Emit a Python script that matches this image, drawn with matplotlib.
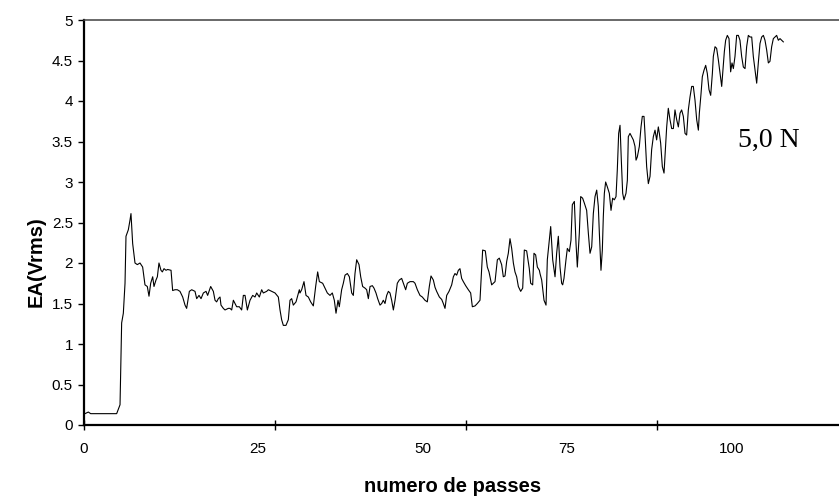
import matplotlib
matplotlib.use("Agg")
import matplotlib.pyplot as plt
from matplotlib.ticker import FixedLocator, FixedFormatter, FuncFormatter

# numero de passes (x) and EA (Vrms) values
passes = [
    0.15, 0.67, 1.03, 1.44, 5.04, 5.56, 5.81, 6.07, 6.33, 6.48, 6.84, 7.10, 7.25, 7.51,
    7.87, 8.23, 8.64, 9.05, 9.41, 9.77, 10.03, 10.29, 10.60, 10.80, 11.11, 11.32, 11.57,
    11.88, 12.09, 12.35, 12.65, 12.91, 13.43, 13.68, 14.04, 14.40, 14.81, 15.23, 15.59,
    15.84, 16.26, 16.62, 17.13, 17.39, 17.75, 18.06, 18.42, 18.83, 19.08, 19.55, 19.96,
    20.22, 20.47, 20.73, 20.99, 21.14, 21.50, 21.76, 22.27, 22.53, 22.79, 23.05, 23.30,
    23.56, 23.97, 24.33, 24.59, 24.85, 25.21, 25.62, 26.03, 26.39, 26.65, 27.06, 27.42,
    27.67, 28.19, 28.45, 28.96, 29.48, 29.99, 30.25, 30.50, 30.76, 31.17, 31.53, 31.79,
    32.05, 32.30, 32.72, 33.23,
    33.33, 33.59, 33.95, 34.26, 34.62, 34.98, 35.39, 35.75, 36.06, 36.32, 36.83, 37.19,
    37.55, 37.96, 38.32, 38.63, 38.89, 39.20, 39.40, 39.76, 40.02, 40.28, 40.64, 40.95,
    41.31, 41.56, 41.82, 42.08, 42.44, 42.70, 43.00, 43.36, 43.62, 43.88, 44.14, 44.50,
    44.75, 45.06, 45.32, 45.68, 45.94, 46.19, 46.45, 46.71, 46.97, 47.22, 47.48, 47.74,
    48.00, 48.35, 48.66, 49.02, 49.28, 49.64, 49.90, 50.31, 50.82, 51.08, 51.44, 51.85,
    52.21, 52.62, 52.98, 53.29, 53.55, 53.91, 54.17, 54.42, 54.84, 55.20, 55.45, 55.71,
    55.97, 56.33, 56.74, 57.00, 57.25, 57.51, 57.77, 58.02, 58.28, 58.54, 58.90, 59.31,
    59.67, 59.93, 60.34, 60.70, 61.11, 61.37, 61.52, 61.93, 62.24, 62.50, 62.91, 63.17,
    63.43, 63.79, 64.09, 64.45, 64.71, 64.97, 65.23, 65.48, 65.74, 66.00, 66.26, 66.51,
    66.77, 67.03, 67.39, 67.70, 67.95, 68.31, 68.72, 68.93, 69.24, 69.44, 69.70, 69.96,
    70.27,
    70.37, 70.63, 70.99, 71.30, 71.50, 71.81, 72.02, 72.33, 72.69, 72.94, 73.20, 73.46,
    73.71, 73.87, 74.07, 74.38, 74.59, 74.90, 75.15, 75.36, 75.67, 75.93, 76.13, 76.44,
    76.65, 76.95, 77.21, 77.57, 77.83, 78.09, 78.35, 78.60, 78.86, 79.12, 79.37, 79.53,
    79.78, 79.99, 80.14, 80.30, 80.50, 80.76, 81.07, 81.33, 81.58, 81.84, 82.10, 82.30,
    82.51, 82.72, 82.92, 83.13, 83.33, 83.64, 83.85, 84.00, 84.26, 84.52, 84.77, 85.03,
    85.19, 85.39, 85.70, 85.96, 86.16, 86.42, 86.57, 86.83, 87.09, 87.35, 87.60, 87.86,
    88.12, 88.37, 88.63, 88.79, 88.99, 89.25, 89.51, 89.71, 89.92, 90.17, 90.43, 90.69,
    90.95, 91.20, 91.46, 91.72, 91.98, 92.23, 92.49, 92.75, 93.00, 93.26, 93.52, 93.78,
    94.03, 94.29, 94.55, 94.81, 94.96, 95.22, 95.42, 95.68, 95.94, 96.19, 96.45, 96.71,
    96.97, 97.12, 97.38, 97.63, 97.89, 98.15, 98.41, 98.56, 98.82, 99.02, 99.28, 99.54,
    99.79, 100.00, 100.21, 100.46, 100.72, 100.98, 101.23, 101.49, 101.75, 102.01, 102.26,
    102.52, 102.78, 103.04, 103.29, 103.55, 103.81, 104.06, 104.32, 104.58, 104.84, 105.09,
    105.35, 105.61, 105.86, 106.12, 106.38, 106.64, 106.89, 107.15, 107.41, 107.67, 107.92,
]

ea_vrms = [
    0.14, 0.16, 0.14, 0.14, 0.14, 0.25, 1.26, 1.38, 1.75, 2.33, 2.41, 2.53, 2.61, 2.24,
    2.00, 1.98, 2.00, 1.95, 1.73, 1.71, 1.59, 1.75, 1.83, 1.71, 1.79, 1.83, 2.00,
    1.91, 1.89, 1.93, 1.91, 1.92, 1.91, 1.66, 1.67, 1.67, 1.65, 1.58, 1.48,
    1.44, 1.65, 1.67, 1.65, 1.56, 1.60, 1.56, 1.63, 1.65, 1.60, 1.71, 1.65,
    1.54, 1.52, 1.56, 1.58, 1.48, 1.44, 1.42, 1.44, 1.44, 1.42, 1.54, 1.50,
    1.46, 1.46, 1.42, 1.60, 1.60, 1.42, 1.54, 1.60, 1.58, 1.63, 1.58, 1.67,
    1.63, 1.65, 1.67, 1.65, 1.63, 1.58, 1.42, 1.30, 1.23, 1.23, 1.30, 1.54,
    1.56, 1.48, 1.52, 1.67,
    1.63, 1.67, 1.77, 1.60, 1.58, 1.52, 1.47, 1.71, 1.89, 1.77, 1.75, 1.69,
    1.63, 1.60, 1.63, 1.54, 1.38, 1.54, 1.46, 1.67, 1.75, 1.85, 1.87, 1.83,
    1.63, 1.60, 1.87, 2.04, 1.98, 1.83, 1.71, 1.69, 1.67, 1.56, 1.71, 1.72,
    1.69, 1.63, 1.56, 1.48, 1.50, 1.54, 1.50, 1.60, 1.65, 1.63, 1.54, 1.42,
    1.54, 1.75, 1.79, 1.81, 1.75, 1.67, 1.75, 1.77, 1.77, 1.75, 1.67, 1.60,
    1.58, 1.54, 1.52, 1.71, 1.84, 1.79, 1.70, 1.65, 1.58, 1.55, 1.50, 1.44,
    1.60, 1.65, 1.73, 1.83, 1.87, 1.85, 1.91, 1.93, 1.81, 1.77, 1.72, 1.67,
    1.63, 1.46, 1.47, 1.50, 1.54, 1.93, 2.16, 2.15, 1.95, 1.89, 1.73, 1.75,
    1.77, 2.04, 2.06, 1.98, 1.83, 1.84, 2.02, 2.12, 2.30, 2.18, 2.00, 1.89,
    1.83, 1.71, 1.65, 1.69, 2.16, 2.15, 1.93, 1.75, 1.73, 2.12, 2.10, 1.95,
    1.91,
    1.87, 1.79, 1.54, 1.48, 2.04, 2.28, 2.45, 2.04, 1.83, 2.12, 2.33, 1.95,
    1.75, 1.73, 1.81, 2.04, 2.18, 2.14, 2.28, 2.72, 2.76, 2.24, 1.95, 2.37,
    2.82, 2.80, 2.74, 2.65, 2.37, 2.12, 2.20, 2.61, 2.82, 2.90, 2.70, 2.37,
    1.91, 2.16, 2.57, 2.86, 3.00, 2.94, 2.86, 2.65, 2.80, 2.78, 2.82, 3.15,
    3.60, 3.70, 3.27, 2.86, 2.78, 2.86, 3.02, 3.56, 3.60, 3.56, 3.52, 3.44,
    3.27, 3.31, 3.44, 3.68, 3.81, 3.81, 3.60, 3.19, 2.98, 3.07, 3.40, 3.56,
    3.64, 3.52, 3.68, 3.60, 3.48, 3.19, 3.11, 3.40, 3.68, 3.91, 3.77, 3.66,
    3.66, 3.89, 3.77, 3.68, 3.85, 3.89, 3.81, 3.60, 3.58, 3.89, 4.05, 4.18,
    4.18, 4.01, 3.77, 3.64, 3.85, 4.09, 4.30, 4.38, 4.44, 4.34, 4.14, 4.07,
    4.34, 4.55, 4.67, 4.65, 4.51, 4.34, 4.18, 4.34, 4.61, 4.75, 4.81, 4.77,
    4.36, 4.47, 4.40, 4.55, 4.81, 4.81, 4.75, 4.55, 4.42, 4.40, 4.67,
    4.81, 4.79, 4.79, 4.55, 4.38, 4.22, 4.47, 4.71, 4.79, 4.81, 4.75,
    4.63, 4.47, 4.49, 4.67, 4.77, 4.79, 4.81, 4.75, 4.77, 4.75, 4.73,
]

y_ticks = [0, 0.5, 1, 1.5, 2, 2.5, 3, 3.5, 4, 4.5, 5]
x_tick_marks = [0, 29.47, 58.95, 88.42]
x_label_pos = [0, 26.85, 52.3, 74.5, 100]
x_label_txt = ["0", "25", "50", "75", "100"]
annotation = "5,0 N"

W, H = 839, 497
fig = plt.figure(figsize=(W / 100, H / 100), dpi=100)
plt.rcParams['font.family'] = ['Liberation Sans', 'DejaVu Sans']

x_max = 120
px_per_unit = 6.48
left_px, bottom_px, top_px = 84, 425, 20
ax = fig.add_axes([left_px / W, (H - bottom_px) / H,
                   x_max * px_per_unit / W, (bottom_px - top_px) / H])

ax.plot(passes, ea_vrms, color='black', lw=0.8)

ax.set_xlim(0, x_max)
ax.set_ylim(0, 5)

ax.set_yticks(y_ticks)
ax.yaxis.set_major_formatter(FuncFormatter(lambda v, p: f"{v:g}"))
ax.tick_params(axis='y', direction='out', length=4.5, width=1, pad=3.5,
               labelsize=11, colors='black')

ax.xaxis.remove_overlapping_locs = False
ax.xaxis.set_major_locator(FixedLocator(x_tick_marks))
ax.xaxis.set_major_formatter(FixedFormatter([""] * len(x_tick_marks)))
ax.xaxis.set_minor_locator(FixedLocator(x_label_pos))
ax.xaxis.set_minor_formatter(FixedFormatter(x_label_txt))
ax.tick_params(axis='x', which='major', direction='inout', length=7, width=1)
ax.tick_params(axis='x', which='minor', length=0, pad=12, labelsize=11)

for s in ('left', 'bottom'):
    ax.spines[s].set_color('black')
    ax.spines[s].set_linewidth(1.6)
ax.spines['top'].set_color('#404040')
ax.spines['top'].set_linewidth(1.1)
ax.spines['right'].set_visible(False)

ax.set_xlabel("numero de passes", fontsize=14.5, fontweight='bold')
ax.xaxis.set_label_coords((453 - left_px) / (x_max * px_per_unit), (bottom_px - 486) / (bottom_px - top_px))
ax.xaxis.label.set_va('center')
ax.set_ylabel("EA(Vrms)", fontsize=14.5, fontweight='bold')
ax.yaxis.set_label_coords((36 - left_px) / (x_max * px_per_unit), (bottom_px - 262) / (bottom_px - top_px))
ax.yaxis.label.set_va('center')

ax.text(100.9, 3.43, annotation, fontsize=20, family=['Liberation Serif', 'DejaVu Serif'],
        ha='left', va='baseline')

fig.savefig("out.png", dpi=100)
